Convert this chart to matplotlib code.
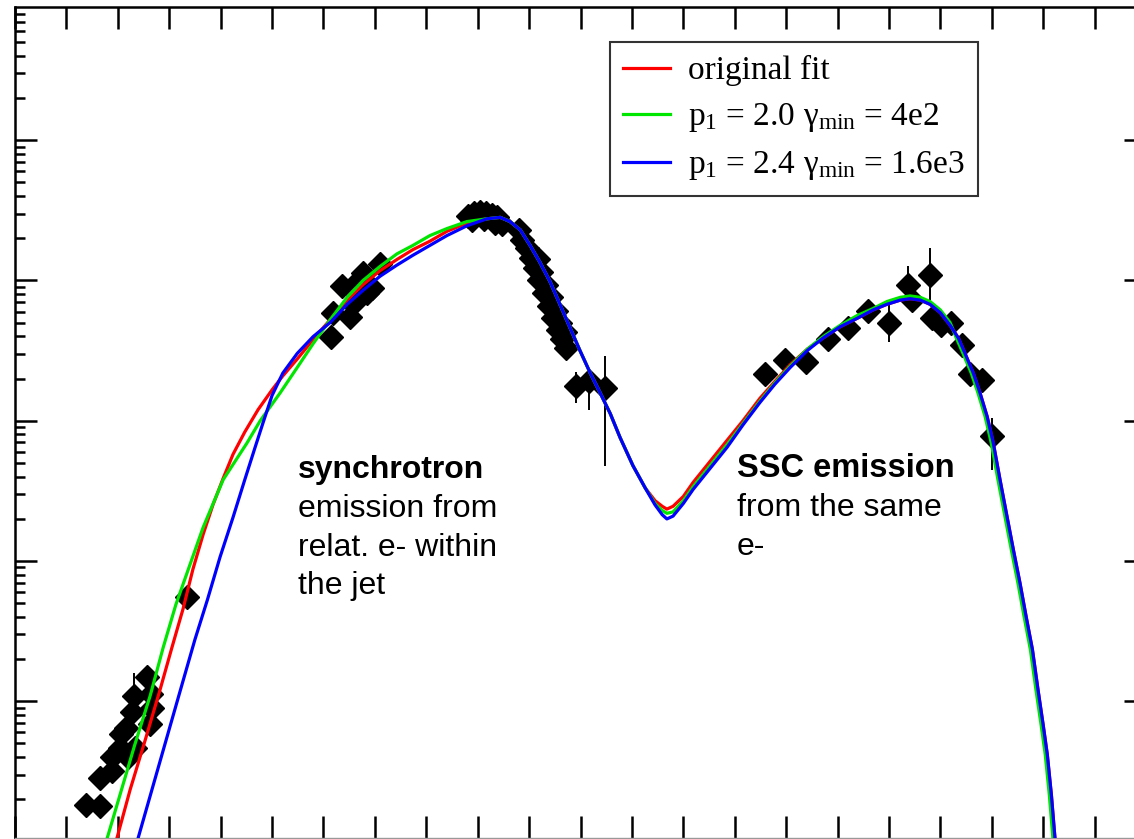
import numpy as np
import matplotlib
matplotlib.use('Agg')
import matplotlib.pyplot as plt
from matplotlib.ticker import LogLocator, NullLocator, NullFormatter

plt.rcParams['mathtext.fontset'] = 'custom'
plt.rcParams['mathtext.rm'] = 'Liberation Serif'
plt.rcParams['mathtext.it'] = 'Liberation Serif:italic'
plt.rcParams['mathtext.default'] = 'regular'

# log10(nu / Hz) and log10(nu F_nu / erg cm^-2 s^-1)
# --- model curves ---
# part shared by all three fits (synchrotron peak and fall)
mid_nu = [17.18, 17.44, 17.63, 17.83, 18.02, 18.21, 18.41, 18.60, 18.80, 18.99,
          19.19, 19.38, 19.58, 19.77, 20.02, 20.26]
mid_f = [-9.56, -9.55, -9.58, -9.64, -9.75, -9.87, -10.01, -10.17, -10.34, -10.50,
         -10.66, -10.80, -10.95, -11.12, -11.32, -11.48]

# SSC peak and cut-off (blue, red lies underneath)
ssc_nu = [23.72, 24.05, 24.38, 24.69, 24.96, 25.22, 25.41, 25.61, 25.80, 26.00,
          26.19, 26.35, 26.48, 26.64, 26.77, 26.91, 27.03, 27.16, 27.30, 27.42,
          27.55, 27.67, 27.79, 27.90, 28.00, 28.08, 28.16, 28.23, 28.29]
ssc_f = [-10.41, -10.33, -10.27, -10.21, -10.17, -10.14, -10.13, -10.14, -10.17, -10.23,
         -10.32, -10.41, -10.52, -10.66, -10.80, -10.97, -11.16, -11.42, -11.69, -11.92,
         -12.16, -12.40, -12.63, -12.92, -13.17, -13.38, -13.67, -13.98, -14.20]

# original fit (red)
red_lo_nu = [9.81, 9.98, 10.24, 10.53, 10.82, 11.05, 11.27, 11.46, 11.66, 11.85,
             12.05, 12.24, 12.47, 12.73, 13.00, 13.21, 13.49, 13.80, 14.13, 14.46,
             14.77, 15.10, 15.43, 15.74, 16.07, 16.40, 16.79]
red_lo_f = [-14.20, -13.98, -13.63, -13.28, -12.92, -12.62, -12.34, -12.06, -11.81, -11.60,
            -11.41, -11.24, -11.08, -10.92, -10.78, -10.68, -10.56, -10.42, -10.28, -10.14,
            -10.03, -9.93, -9.85, -9.78, -9.72, -9.65, -9.59]
red_v_nu = [20.45, 20.59, 20.68, 20.80, 21.00, 21.19, 21.52, 21.85, 22.16, 22.49,
            22.78, 23.08, 23.41]
red_v_f = [-11.57, -11.61, -11.63, -11.61, -11.54, -11.44, -11.29, -11.14, -11.00, -10.84,
           -10.72, -10.60, -10.49]

# p1 = 2.0, gamma_min = 4e2 (green)
green_lo_nu = [9.61, 9.79, 10.04, 10.33, 10.63, 10.88, 11.13, 11.39, 11.66, 12.05,
               12.51, 12.77, 13.16, 13.49, 13.80, 14.13, 14.46, 14.77, 15.10, 15.43,
               15.74, 16.07, 16.40, 16.79]
green_lo_f = [-14.20, -13.98, -13.67, -13.31, -12.96, -12.62, -12.31, -12.04, -11.76, -11.42,
              -11.16, -11.00, -10.80, -10.62, -10.45, -10.28, -10.12, -10.00, -9.90, -9.81,
              -9.75, -9.68, -9.63, -9.58]
green_v_nu = [20.45, 20.59, 20.68, 20.80, 21.00, 21.19, 21.52, 21.85, 22.16, 22.49,
              22.78, 23.08, 23.41, 23.72, 24.05, 24.38, 24.69, 24.96, 25.22, 25.41,
              25.61, 25.80, 26.00, 26.19]
green_v_f = [-11.59, -11.64, -11.66, -11.65, -11.57, -11.47, -11.32, -11.17, -11.02, -10.86,
             -10.73, -10.61, -10.49, -10.40, -10.32, -10.25, -10.20, -10.15, -10.12, -10.11,
             -10.12, -10.15, -10.21, -10.30]
green_hi_nu = [26.31, 26.44, 26.60, 26.73, 26.87, 26.99, 27.12, 27.26, 27.38, 27.51,
               27.63, 27.75, 27.86, 27.96, 28.04, 28.12, 28.19, 28.25]
green_hi_f = [-10.41, -10.52, -10.66, -10.80, -10.97, -11.16, -11.42, -11.69, -11.92, -12.16,
              -12.40, -12.63, -12.92, -13.17, -13.38, -13.67, -13.98, -14.20]

# p1 = 2.4, gamma_min = 1.6e3 (blue)
blue_lo_nu = [10.22, 10.82, 11.21, 11.50, 11.74, 11.99, 12.24, 12.47, 12.67, 12.82,
              13.00, 13.21, 13.49, 13.80, 14.13, 14.46, 14.77, 15.10, 15.43, 15.74,
              16.07, 16.40, 16.79]
blue_lo_f = [-14.20, -13.43, -12.93, -12.56, -12.28, -11.97, -11.69, -11.42, -11.19, -11.02,
             -10.82, -10.66, -10.52, -10.40, -10.30, -10.17, -10.07, -9.97, -9.89, -9.82,
             -9.75, -9.68, -9.61]
blue_v_nu = [20.45, 20.59, 20.68, 20.80, 21.00, 21.19, 21.52, 21.85, 22.16, 22.49,
             22.78, 23.08, 23.41]
blue_v_f = [-11.60, -11.67, -11.70, -11.68, -11.59, -11.49, -11.34, -11.19, -11.03, -10.87,
            -10.74, -10.62, -10.50]

# --- observed SED ---
obs_nu = [9.38, 9.65, 9.65, 9.89, 9.89, 10.04, 10.06, 10.16, 10.28, 10.31, 10.57, 10.65,
          10.67, 10.63, 10.20, 10.33, 11.35,
          14.15, 14.19, 14.36, 14.52, 14.58, 14.67, 14.71, 14.85, 14.95, 15.10, 14.77,
          16.81, 16.93, 17.05, 17.16, 17.28, 17.38, 17.47, 16.89, 17.12, 17.34,
          17.81, 17.86, 17.96, 18.04, 18.17, 18.12, 18.23, 18.19, 18.33, 18.29, 18.43,
          18.39, 18.53, 18.47, 18.60, 18.56, 18.70, 18.64, 18.72,
          18.91, 19.17, 19.48,
          22.59, 22.98, 23.39, 23.82, 24.21, 24.60, 25.00, 25.37, 25.45, 25.80, 25.84,
          26.01, 26.21, 26.42, 26.58, 26.81, 27.01]
obs_f = [-13.74, -13.75, -13.55, -13.50, -13.40, -13.33, -13.23, -13.19, -13.08, -12.96, -12.83, -12.95,
         -13.05, -13.16, -13.40, -13.33, -12.26,
         -10.40, -10.23, -10.04, -10.26, -10.17, -10.11, -9.99, -10.09, -10.05, -9.88, -9.95,
         -9.54, -9.52, -9.51, -9.52, -9.53, -9.55, -9.60, -9.57, -9.56, -9.59,
         -9.64, -9.71, -9.77, -9.84, -9.85, -9.91, -9.94, -10.00, -10.03, -10.09, -10.12,
         -10.18, -10.22, -10.27, -10.30, -10.35, -10.37, -10.42, -10.48,
         -10.75, -10.72, -10.77,
         -10.67, -10.57, -10.58, -10.42, -10.34, -10.22, -10.30, -10.03, -10.14, -9.96, -10.27,
         -10.32, -10.30, -10.46, -10.67, -10.71, -11.11]

# points with visible error bars (log nu, log flux, dex up, dex down)
err_nu = [10.31, 18.91, 19.17, 19.48, 25.00, 25.37, 25.80, 27.01]
err_f = [-12.96, -10.75, -10.72, -10.77, -10.30, -10.03, -9.96, -11.11]
err_up = [0.16, 0.10, 0.07, 0.23, 0.14, 0.13, 0.19, 0.13]
err_dn = [0.00, 0.12, 0.20, 0.55, 0.14, 0.11, 0.18, 0.24]

labels = ['original fit',
          r'p$_1$ = 2.0 γ$_{\mathrm{min}}$ = 4e2',
          r'p$_1$ = 2.4 γ$_{\mathrm{min}}$ = 1.6e3']

red_nu = red_lo_nu + mid_nu + red_v_nu + ssc_nu
red_f = red_lo_f + mid_f + red_v_f + ssc_f
green_nu = green_lo_nu + mid_nu + green_v_nu + green_hi_nu
green_f = green_lo_f + mid_f + green_v_f + green_hi_f
blue_nu = blue_lo_nu + mid_nu + blue_v_nu + ssc_nu
blue_f = blue_lo_f + mid_f + blue_v_f + ssc_f

W, H = 1134, 839
fig = plt.figure(figsize=(W / 100, H / 100), dpi=100)
ax = fig.add_axes([15 / W, 1 - 838 / H, 1131 / W, 831 / H])
ax.set_xscale('log')
ax.set_yscale('log')

p = lambda a: 10 ** np.array(a)

ax.vlines(p(err_nu), p(np.array(err_f) - np.array(err_dn)),
          p(np.array(err_f) + np.array(err_up)), color='black', lw=1.4, zorder=2)
ax.plot(p(obs_nu), p(obs_f), 'D', color='black', ms=12, mec='black', ls='none', zorder=2)

ax.plot(p(red_nu), p(red_f), color='#ff0000', lw=2.3, label=labels[0], zorder=3)
ax.plot(p(green_nu), p(green_f), color='#00e600', lw=2.3, label=labels[1], zorder=3)
ax.plot(p(blue_nu), p(blue_f), color='#0000ff', lw=2.3, label=labels[2], zorder=4)

ax.set_xlim(1e8, 1e30)
ax.set_ylim(10 ** -13.975, 10 ** -8.05)

ax.xaxis.set_major_locator(LogLocator(base=10, numticks=40))
ax.xaxis.set_minor_locator(NullLocator())
ax.yaxis.set_major_locator(LogLocator(base=10, numticks=20))
ax.yaxis.set_minor_locator(LogLocator(base=10, subs=np.arange(2, 10), numticks=20))
ax.xaxis.set_major_formatter(NullFormatter())
ax.yaxis.set_major_formatter(NullFormatter())
ax.yaxis.set_minor_formatter(NullFormatter())
ax.tick_params(which='both', direction='in', top=True, right=True, bottom=True, left=True,
               labelbottom=False, labelleft=False, color='black')
ax.tick_params(which='major', length=16, width=1.8)
ax.tick_params(which='minor', length=7, width=1.8)
for s in ax.spines.values():
    s.set_linewidth(1.8)
ax.spines['bottom'].set_color('#999999')
ax.spines['bottom'].set_linewidth(1.0)

leg = ax.legend(loc='upper left', bbox_to_anchor=(610 / W, 1 - 42 / H),
                bbox_transform=fig.transFigure, borderaxespad=0,
                prop={'family': 'Liberation Serif', 'size': 24},
                frameon=True, fancybox=False, framealpha=1, edgecolor='#333333',
                handlelength=1.4, handletextpad=0.55, labelspacing=0.45, borderpad=0.4)
leg.get_frame().set_linewidth(1.5)

sans = 'Liberation Sans'
fig.text(298 / W, 1 - 478 / H, 'synchrotron', fontsize=23, fontweight='bold', family=sans, va='baseline')
fig.text(298 / W, 1 - 517 / H, 'emission from', fontsize=23, family=sans, va='baseline')
fig.text(298 / W, 1 - 556 / H, 'relat. e- within', fontsize=23, family=sans, va='baseline')
fig.text(298 / W, 1 - 594 / H, 'the jet', fontsize=23, family=sans, va='baseline')
fig.text(737 / W, 1 - 477 / H, 'SSC emission', fontsize=23.5, fontweight='bold', family=sans, va='baseline')
fig.text(737 / W, 1 - 516 / H, 'from the same', fontsize=23, family=sans, va='baseline')
fig.text(737 / W, 1 - 555 / H, 'e-', fontsize=23, family=sans, va='baseline')

fig.savefig('out.png', dpi=100)
